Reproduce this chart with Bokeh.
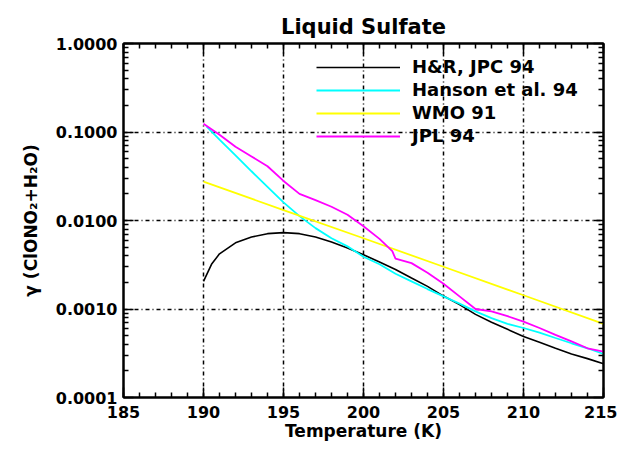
from bokeh.plotting import figure
from bokeh.models import FixedTicker, LinearAxis, LogAxis, Legend, LegendItem, Range1d
from bokeh.embed import file_html
from bokeh.resources import INLINE

# ---- data ----
temp_hr = [190, 190.5, 191, 192, 193, 194, 195, 196, 197, 198, 199, 200, 201, 202, 203,
           204, 205, 206, 207, 208, 209, 210, 211, 212, 213, 214, 215]
gamma_hr = [0.00205, 0.0032, 0.0042, 0.0056, 0.0065, 0.0071, 0.0073, 0.0071, 0.0065, 0.0057,
            0.0049, 0.0041, 0.0034, 0.0028, 0.00224, 0.0018, 0.0014, 0.00112, 0.00087,
            0.00071, 0.00059, 0.00049, 0.00042, 0.00036, 0.00031, 0.000275, 0.00024]

temp_hanson = [190.2, 191, 192, 193, 194, 195, 196, 197, 198, 199, 200, 201, 202, 203, 204,
               205, 206, 207, 208, 209, 210, 211, 212, 213, 214, 215]
gamma_hanson = [0.115, 0.082, 0.0545, 0.036, 0.024, 0.016, 0.0112, 0.0082, 0.0063, 0.0051,
                0.0039, 0.0032, 0.0025, 0.00205, 0.00168, 0.00139, 0.00115, 0.00094, 0.00079,
                0.00068, 0.00061, 0.00054, 0.00047, 0.00041, 0.00036, 0.00031]

temp_wmo = [190, 195, 200, 205, 210, 215]
gamma_wmo = [0.0275, 0.0131, 0.0063, 0.0030, 0.00143, 0.00068]

temp_jpl = [190, 191, 192, 193, 194, 195, 196, 197, 198, 199, 200, 201, 201.8, 202, 203, 204,
            205, 206, 207, 208, 209, 210, 211, 212, 213, 214, 215]
gamma_jpl = [0.124, 0.093, 0.068, 0.053, 0.041, 0.028, 0.020, 0.0170, 0.0143, 0.0116,
             0.0086, 0.0062, 0.0045, 0.0037, 0.0033, 0.00257, 0.00193, 0.00139, 0.00100,
             0.00094, 0.00083, 0.00072, 0.00061, 0.00051, 0.00043, 0.00036, 0.00033]

series_labels = ["H&R, JPC 94", "Hanson et al. 94", "WMO 91", "JPL 94"]
series_colors = ["black", "#00ffff", "#ffff00", "#ff00ff"]

x_ticks = [185, 190, 195, 200, 205, 210, 215]
y_ticks = [0.0001, 0.001, 0.01, 0.1, 1.0]
y_tick_labels = ["0.0001", "0.0010", "0.0100", "0.1000", "1.0000"]

FONT = "DejaVu Sans"

p = figure(width=617, height=447, y_axis_type="log",
           x_range=Range1d(185, 215), y_range=Range1d(1e-4, 1.0),
           output_backend="svg", toolbar_location=None,
           min_border_left=123, min_border_right=14, min_border_top=43, min_border_bottom=50,
           title="Liquid Sulfate")
p.title.align = "center"
p.title.text_font = FONT
p.title.text_font_size = "21px"
p.title.text_font_style = "bold"
p.title.text_color = "black"
p.title.offset = 0

p.outline_line_color = "black"
p.outline_line_width = 2
p.background_fill_color = "white"
p.border_fill_color = "white"

def style_axis(ax, show_labels=True):
    ax.axis_line_color = "black"
    ax.axis_line_width = 2
    ax.major_tick_in = 10
    ax.major_tick_out = 0
    ax.minor_tick_in = 5
    ax.minor_tick_out = 0
    ax.major_tick_line_color = "black"
    ax.minor_tick_line_color = "black"
    ax.major_tick_line_width = 1.5
    ax.minor_tick_line_width = 1.5
    ax.major_label_text_font = FONT
    ax.major_label_text_font_style = "bold"
    ax.major_label_text_font_size = "16px" if show_labels else "0px"
    ax.major_label_text_color = "black"
    ax.axis_label_text_font = FONT
    ax.axis_label_text_font_style = "bold"
    ax.axis_label_text_font_size = "17px"
    ax.axis_label_text_color = "black"

xt = FixedTicker(ticks=x_ticks, minor_ticks=list(range(185, 216)))
yminor = [m * 10.0 ** e for e in range(-4, 0) for m in range(2, 10)]
yt = FixedTicker(ticks=y_ticks, minor_ticks=yminor)

p.xaxis.ticker = xt
p.yaxis.ticker = yt
p.yaxis.major_label_overrides = {v: s for v, s in zip(y_ticks, y_tick_labels)}
p.xaxis.axis_label = "Temperature (K)"
p.yaxis.axis_label = "γ (ClONO₂+H₂O)"
style_axis(p.xaxis[0])
style_axis(p.yaxis[0])
p.xaxis.major_label_standoff = 8
p.yaxis.major_label_standoff = 6
p.xaxis.axis_label_standoff = 0
p.yaxis.axis_label_standoff = 12

top = LinearAxis(ticker=xt)
style_axis(top, show_labels=False)
top.major_label_overrides = {v: "" for v in x_ticks}
p.add_layout(top, "above")
right = LogAxis(ticker=yt)
style_axis(right, show_labels=False)
right.major_label_overrides = {v: "" for v in y_ticks}
p.add_layout(right, "right")

p.xgrid.ticker = FixedTicker(ticks=[190, 195, 200, 205, 210])
p.ygrid.ticker = FixedTicker(ticks=[0.001, 0.01, 0.1])
for g in (p.xgrid[0], p.ygrid[0]):
    g.grid_line_color = "black"
    g.grid_line_width = 1.5
    g.grid_line_dash = "4 3 1 3"

r_hr = p.line(temp_hr, gamma_hr, line_color=series_colors[0], line_width=1.6)
r_hn = p.line(temp_hanson, gamma_hanson, line_color=series_colors[1], line_width=1.8)
r_wm = p.line(temp_wmo, gamma_wmo, line_color=series_colors[2], line_width=1.8)
r_jp = p.line(temp_jpl, gamma_jpl, line_color=series_colors[3], line_width=1.8)

legend = Legend(items=[LegendItem(label=l, renderers=[r])
                       for l, r in zip(series_labels, [r_hr, r_hn, r_wm, r_jp])],
                location=(191, 249))
legend.background_fill_alpha = 0
legend.border_line_alpha = 0
legend.glyph_width = 84
legend.glyph_height = 20
legend.label_height = 20
legend.spacing = 2
legend.padding = 2
legend.margin = 0
legend.label_standoff = 12
legend.label_text_font = FONT
legend.label_text_font_style = "bold"
legend.label_text_font_size = "18px"
legend.label_text_color = "black"
p.add_layout(legend, "center")

open("out.html", "w").write(file_html(p, INLINE))
